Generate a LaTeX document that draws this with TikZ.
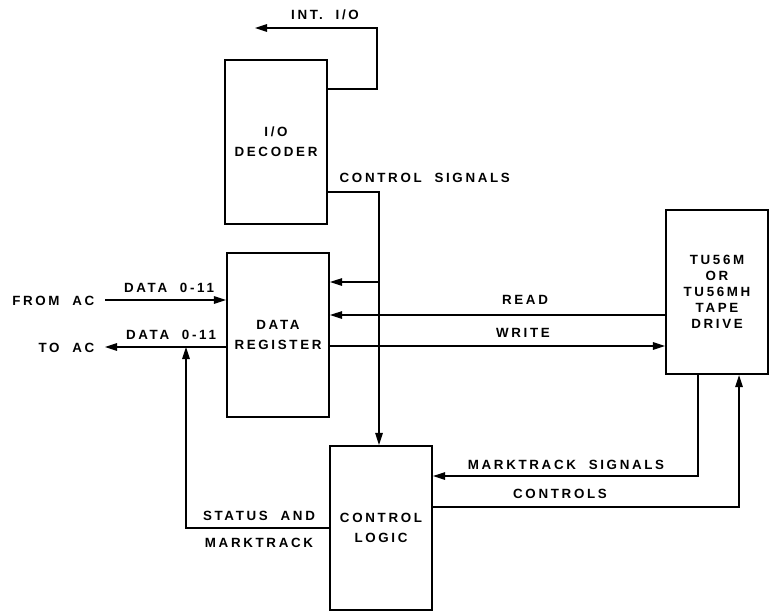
\documentclass[tikz,border=0pt]{standalone}
\usepackage{fontspec}
\setmainfont{Liberation Sans}[LetterSpace=20,WordSpace=2]
\usetikzlibrary{arrows.meta,positioning}

\begin{document}
\begin{tikzpicture}[x=0.25mm,y=-0.25mm,>={Triangle[length=3mm,width=1.9mm]},
  font=\fontsize{9.5}{11.3}\selectfont\bfseries,
  blk/.style={draw,line width=1.6pt,minimum width=25.5mm,minimum height=41mm,
    align=center,inner sep=0pt},
  sig/.style={line width=0.8pt},
  lbl/.style={inner sep=1pt}]
  \useasboundingbox (0,0) rectangle (772,612);
  % blocks
  \node[blk] (dec) at (276,142) {I/O\\[3pt]DECODER};
  \node[blk] (reg) at (278,335) {DATA\\[3pt]REGISTER};
  \node[blk] (ctl) at (381,528) {CONTROL\\[3pt]LOGIC};
  \node[blk] (tape) at (717,292) {TU56M\\OR\\TU56MH\\TAPE\\DRIVE};
  % labels
  \node[lbl] (intio) at (325,15) {INT. I/O};
  \node[lbl,anchor=west] (ctlsig) at (338,178) {CONTROL SIGNALS};
  \node[lbl,anchor=east] (fromac) at (96,301) {FROM AC};
  \node[lbl,anchor=east] (toac) at (96,348) {TO AC};
  \node[lbl] (din) at (169,288) {DATA 0-11};
  \node[lbl] (dout) at (171,335) {DATA 0-11};
  \node[lbl] (rd) at (525,300) {READ};
  \node[lbl] (wr) at (523,333) {WRITE};
  \node[lbl] (mts) at (566,465) {MARKTRACK SIGNALS};
  \node[lbl] (cts) at (560,494) {CONTROLS};
  \node[lbl] (sta) at (259,516) {STATUS AND};
  \node[lbl] (mtk) at (259,543) {MARKTRACK};
  % free ends
  \coordinate (intend) at (255,28);
  \coordinate (acin) at (105,300);
  \coordinate (acout) at (105,347);
  \coordinate (bus) at (379,192);
  % connectors
  \draw[sig,->] (dec.east |- 0,89) -| (377,28) -- (intend);
  \draw[sig,->] (dec.east |- bus) -- (bus) -- (bus |- ctl.north);
  \draw[sig,->] (bus |- 0,282) -- (reg.east |- 0,282);
  \draw[sig,->] (tape.west |- 0,315) -- (reg.east |- 0,315);
  \draw[sig,->] (reg.east |- 0,346) -- (tape.west |- 0,346);
  \draw[sig,->] (acin) -- (reg.west |- acin);
  \draw[sig,->] (reg.west |- acout) -- (acout);
  \draw[sig,->] (ctl.west |- 0,528) -| (186,347);
  \draw[sig,->] (tape.south -| 698,0) |- (ctl.east |- 0,476);
  \draw[sig,->] (ctl.east |- 0,507) -| (tape.south -| 739,0);
\end{tikzpicture}
\end{document}
